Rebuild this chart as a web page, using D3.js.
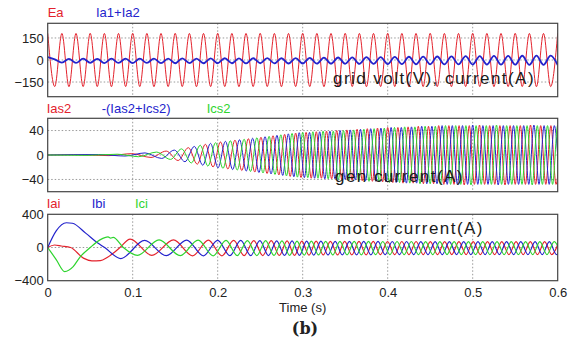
<!DOCTYPE html>
<html><head><meta charset="utf-8">
<script src="https://cdn.jsdelivr.net/npm/d3@7"></script>
<style>body{margin:0;background:#fff}svg{display:block}</style>
</head><body>
<svg id="c" width="572" height="344"></svg>
<script>
// ---------------- DATA (times in ms, values in V / A) ----------------
const xTickValues = [0, 0.1, 0.2, 0.3, 0.4, 0.5, 0.6];
const xTickLabels = ["0", "0.1", "0.2", "0.3", "0.4", "0.5", "0.6"];
const gridTicks = [150, 0, -150];
const genTicks = [40, 0, -40];
const motorTicks = [400, 0, -400];

const gridLegend = ["Ea", "Ia1+Ia2"];
const genLegend = ["Ias2", "-(Ias2+Ics2)", "Ics2"];
const motorLegend = ["Iai", "Ibi", "Ici"];
const panelTitles = ["grid volt(V), current(A)", "gen current(A)", "motor current(A)"];
const xTitle = "Time (s)";
const caption = "(b)";

// grid voltage / current : extrema of each half cycle
const gridT = [0,8.3,16.7,25,33.3,41.7,50,58.3,66.7,75,83.3,91.7,100,108.3,116.7,125,133.3,141.7,150,158.3,166.7,175,183.3,191.7,200,208.3,216.7,225,233.3,241.7,250,258.3,266.7,275,283.3,291.7,300,308.3,316.7,325,333.3,341.7,350,358.3,366.7,375,383.3,391.7,400,408.3,416.7,425,433.3,441.7,450,458.3,466.7,475,483.3,491.7,500,508.3,516.7,525,533.3,541.7,550,558.3,566.7,575,583.3,591.7,600];
const ea = [182,-181,181,-182,181,-181,182,-181,181,-182,181,-181,182,-181,181,-182,181,-181,182,-181,181,-182,181,-181,182,-181,181,-182,181,-181,182,-181,181,-182,181,-181,182,-181,181,-182,181,-181,182,-181,181,-182,181,-181,182,-181,181,-182,181,-181,182,-181,181,-182,181,-181,182,-181,181,-182,181,-181,182,-181,181,-182,181,-181,182];
const ia12 = [20,4,-18,8,-20,9,-19,8,-21,9,-20,10,-21,9,-20,10,-21,10,-22,11,-21,10,-22,11,-22,12,-22,11,-23,12,-22,13,-23,12,-24,13,-24,15,-25,16,-25,17,-26,18,-27,19,-27,20,-28,21,-28,22,-29,23,-29,24,-30,25,-30,26,-31,27,-31,28,-32,28,-32,29,-33,30,-33,30,-34];

// generator currents : extrema
const ias2T = [0,30,72,99,121.5,139.5,153.5,165.5,176,185.5,194.5,203.3,212,220.3,228.4,236.1,243.6,250.9,258.1,265.1,272,278.7,285.3,291.7,298,304,310,316,322,328,334,340,346,352,358,364,370,376,382,388,394,400,406,412,418,424,430,436,442,448,454,460,466,472,478,484,490,496,502,508,514,520,526,532,538,544,550,556,562,568,574,580,586,592,598,604];
const ias2 = [0,0.4,-1,2.2,-4,6.4,-9,12,-15,17.6,-19.6,21.3,-22.8,24.2,-25.4,26.6,-27.8,29,-30.2,31.4,-32.6,33.8,-35,35.9,-36.8,37,-38,38,-38,39,-39,40,-40,41,-41,42,-42,43,-43,44,-44,45,-45,45,-46,46,-46,47,-47,47,-47,48,-48,48,-48,48,-49,48,-48,49,-48,48,-48,48,-49,48,-48,48,-48,49,-48,48,-48,48,-48,48];
const ibs2T = [0,60,91,114.5,134,149,161.5,172.5,182.5,191.5,200.4,209.1,217.6,225.7,233.6,241.1,248.5,255.7,262.8,269.7,276.5,283.1,289.6,295.9,302,308,314,320,326,332,338,344,350,356,362,368,374,380,386,392,398,404,410,416,422,428,434,440,446,452,458,464,470,476,482,488,494,500,506,512,518,524,530,536,542,548,554,560,566,572,578,584,590,596,602];
const ibs2 = [0,0.8,-1.7,3.4,-5.6,8,-11,14,-16.8,19,-20.8,22.3,-23.8,25,-26.2,27.4,-28.6,29.8,-31,32.2,-33.4,34.6,-35.6,36.5,-37,37,-38,38,-39,39,-39,40,-40,41,-41,42,-42,43,-43,44,-44,45,-45,45,-46,46,-46,47,-47,47,-47,48,-48,48,-48,48,-48,49,-48,48,-48,48,-49,48,-48,48,-48,48,-48,49,-48,48,-48,48,-48];
const ics2T = [0,46,82,107,128,144.5,157.5,169,179.5,188.5,197.5,206.2,214.9,223,231.1,238.6,246.1,253.3,260.5,267.4,274.3,280.9,287.5,293.8,300,306,312,318,324,330,336,342,348,354,360,366,372,378,384,390,396,402,408,414,420,426,432,438,444,450,456,462,468,474,480,486,492,498,504,510,516,522,528,534,540,546,552,558,564,570,576,582,588,594,600,606];
const ics2 = [0,-0.6,1.3,-2.8,4.8,-7.2,10,-13,16,-18.3,20.2,-21.8,23.3,-24.6,25.8,-27,28.2,-29.4,30.6,-31.8,33,-34.2,35.3,-36.2,37,-37,38,-38,39,-39,39,-40,40,-41,41,-42,42,-43,43,-44,44,-45,45,-45,46,-46,46,-47,47,-47,47,-48,48,-48,48,-48,48,-49,48,-48,48,-48,49,-48,48,-48,48,-48,48,-49,48,-48,48,-48,49,-48];

// motor currents : start transient, then extrema
const iaiT = [0,8,16,27,42,52,62,70,77,85,97,122.5,148,170.5,189.1,205,218.8,231.1,242.5,253,263,272.5,281.6,290.4,299,307.4,315.8,324.2,332.6,341,349.4,357.8,366.2,374.6,383,391.4,399.8,408.2,416.6,425,433.4,441.8,450.2,458.6,467,475.4,483.8,492.2,500.6,509,517.4,525.8,534.2,542.6,551,559.4,567.8,576.2,584.6,593,601.4];
const iai = [0,30,18,0,-128,-160,-158,-120,-70,0,102,-95,92,-100,88,-100,85,-98,84,-97,82,-96,80,-95,78,-92,76,-90,75,-90,74,-88,74,-88,73,-87,72,-87,72,-86,72,-86,71,-86,71,-85,71,-85,70,-85,70,-85,70,-85,70,-85,70,-85,70,-85,70];
const ibiT = [0,10,22,29,45,58,67,86,114,139.5,163.5,183.2,200,214.4,227.1,238.8,249.6,259.7,269.4,278.6,287.5,296.2,304.6,313,321.4,329.8,338.2,346.6,355,363.4,371.8,380.2,388.6,397,405.4,413.8,422.2,430.6,439,447.4,455.8,464.2,472.6,481,489.4,497.8,506.2,514.6,523,531.4,539.8,548.2,556.6,565,573.4,581.8,590.2,598.6,607];
const ibi = [0,200,298,292,170,60,0,-133,85,-98,90,-100,87,-99,85,-98,83,-97,81,-96,79,-94,77,-91,76,-90,75,-89,74,-88,73,-88,73,-87,72,-87,72,-86,71,-86,71,-86,71,-85,70,-85,70,-85,70,-85,70,-85,70,-85,70,-85,70,-85,70];
const iciT = [0,10,20,30,38,50,62,71,74,77,89,105.5,131,156,177,194.7,209.8,223,235,246.1,256.4,266.2,275.6,284.6,293.3,301.8,310.2,318.6,327,335.4,343.8,352.2,360.6,369,377.4,385.8,394.2,402.6,411,419.4,427.8,436.2,444.6,453,461.4,469.8,478.2,486.6,495,503.4,511.8,520.2,528.6,537,545.4,553.8,562.2,570.6,579,587.4,595.8,604.2];
const ici = [0,-145,-290,-230,-115,0,95,128,112,122,0,-95,92,-98,88,-100,86,-98,84,-97,82,-96,80,-95,78,-92,76,-90,75,-90,74,-88,74,-88,73,-87,72,-87,72,-86,72,-86,71,-86,71,-85,71,-85,70,-85,70,-85,70,-85,70,-85,70,-85,70,-85,70,-85];

// ---------------- DRAWING ----------------
const RED = "#e3222c", BLUE = "#2323cc", GREEN = "#2ed42e";
const FONT = "'Liberation Sans', Arial, sans-serif";
const svg = d3.select("#c");
const x = d3.scaleLinear().domain([0, 0.6]).range([47.7, 557.7]);

const panels = [
  {top: 23.3, bottom: 96.7, dom: [-250, 250], ticks: gridTicks,
   series: [{t: gridT, v: ea, c: RED, w: 1}, {t: gridT, v: ia12, c: BLUE, w: 1.8}],
   legend: gridLegend, legendColors: [RED, BLUE], legendX: [47.7, 96], legendY: 17,
   title: panelTitles[0], titleX: 333, titleY: 84},
  {top: 118.3, bottom: 191.7, dom: [-60, 60], ticks: genTicks,
   series: [{t: ias2T, v: ias2, c: RED, w: 1}, {t: ibs2T, v: ibs2, c: BLUE, w: 1}, {t: ics2T, v: ics2, c: GREEN, w: 1}],
   legend: genLegend, legendColors: [RED, BLUE, GREEN], legendX: [46.7, 101.7, 206.7], legendY: 113,
   title: panelTitles[1], titleX: 335, titleY: 181.5},
  {top: 214.3, bottom: 280.7, dom: [-400, 400], ticks: motorTicks,
   series: [{t: iaiT, v: iai, c: RED, w: 1.2}, {t: ibiT, v: ibi, c: BLUE, w: 1.2}, {t: iciT, v: ici, c: GREEN, w: 1.2}],
   legend: motorLegend, legendColors: [RED, BLUE, GREEN], legendX: [46.7, 91.7, 135], legendY: 208,
   title: panelTitles[2], titleX: 337, titleY: 234}
];

panels.forEach((p, i) => {
  const y = d3.scaleLinear().domain(p.dom).range([p.bottom, p.top]);
  const g = svg.append("g");
  const clipId = "clip" + i;
  svg.append("clipPath").attr("id", clipId).append("rect")
    .attr("x", x(0)).attr("y", p.top).attr("width", x(0.6) - x(0)).attr("height", p.bottom - p.top);

  // grid
  g.selectAll(".vg").data(xTickValues.filter(d => d > 0 && d < 0.6)).join("line")
    .attr("x1", d => x(d)).attr("x2", d => x(d)).attr("y1", p.top).attr("y2", p.bottom)
    .attr("stroke", "#9a9a9a").attr("stroke-width", 1).attr("stroke-dasharray", "1.5,2");
  g.selectAll(".hg").data(p.ticks.filter(d => y(d) > p.top + 1 && y(d) < p.bottom - 1)).join("line")
    .attr("x1", x(0)).attr("x2", x(0.6)).attr("y1", d => y(d)).attr("y2", d => y(d))
    .attr("stroke", "#9a9a9a").attr("stroke-width", 1).attr("stroke-dasharray", "1.5,2");

  // series
  const line = d3.line().x(d => x(d[0] / 1000)).y(d => y(d[1])).curve(d3.curveMonotoneX);
  const sg = g.append("g").attr("clip-path", `url(#${clipId})`);
  p.series.forEach(s => {
    sg.append("path").datum(s.t.map((t, k) => [t, s.v[k]]))
      .attr("d", line).attr("fill", "none").attr("stroke", s.c)
      .attr("stroke-width", s.w).attr("stroke-linejoin", "round");
  });

  // frame
  g.append("rect").attr("x", x(0)).attr("y", p.top).attr("width", x(0.6) - x(0))
    .attr("height", p.bottom - p.top).attr("fill", "none").attr("stroke", "#444").attr("stroke-width", 1.2);

  // y axis
  const ya = g.append("g").attr("transform", `translate(${x(0)},0)`)
    .call(d3.axisLeft(y).tickValues(p.ticks).tickSize(0).tickPadding(4).tickFormat(d3.format("d")));
  ya.select(".domain").remove();
  ya.selectAll("text").attr("font-family", FONT).attr("font-size", 13).attr("fill", "#222");

  // legend
  p.legend.forEach((txt, k) => {
    svg.append("text").attr("x", p.legendX[k]).attr("y", p.legendY).text(txt)
      .attr("font-family", FONT).attr("font-size", 13).attr("fill", p.legendColors[k]);
  });

  // title
  svg.append("text").attr("x", p.titleX).attr("y", p.titleY).text(p.title)
    .attr("font-family", FONT).attr("font-size", 17).attr("fill", "#1a1a1a")
    .style("letter-spacing", "1.45px");

  if (i === 2) {
    const xa = svg.append("g").attr("transform", `translate(0,${p.bottom})`)
      .call(d3.axisBottom(x).tickValues(xTickValues).tickSize(0).tickPadding(7)
        .tickFormat((d, k) => xTickLabels[k]));
    xa.select(".domain").remove();
    xa.selectAll("text").attr("font-family", FONT).attr("font-size", 13).attr("fill", "#222");
  }
});

svg.append("text").attr("x", (x(0) + x(0.6)) / 2).attr("y", 312).attr("text-anchor", "middle")
  .text(xTitle).attr("font-family", FONT).attr("font-size", 13).attr("fill", "#222");
svg.append("text").attr("x", 305).attr("y", 334).attr("text-anchor", "middle")
  .text(caption).attr("font-family", "'DejaVu Serif', serif").attr("font-weight", "bold")
  .attr("font-size", 16).attr("fill", "#222");
</script>
</body></html>
